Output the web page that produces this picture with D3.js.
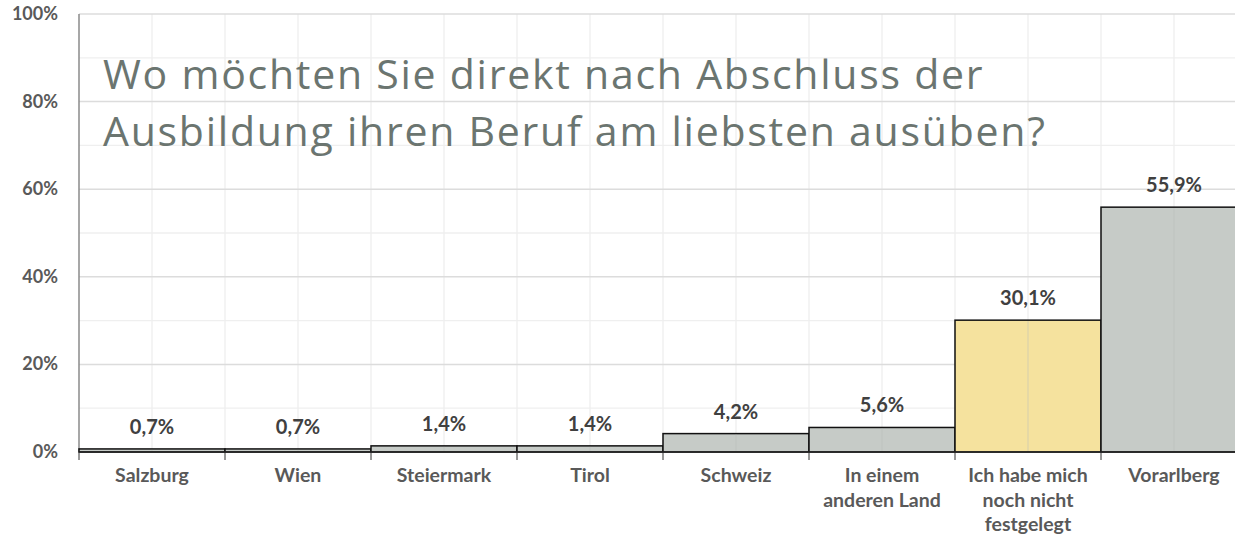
<!DOCTYPE html>
<html><head><meta charset="utf-8">
<script src="https://cdn.jsdelivr.net/npm/d3@7"></script>
<style>body{margin:0;background:#fff;overflow:hidden}svg{display:block}</style>
</head><body>
<svg id="c" width="1235" height="538"></svg>
<script>
const categories = ["Salzburg","Wien","Steiermark","Tirol","Schweiz","In einem anderen Land","Ich habe mich noch nicht festgelegt","Vorarlberg"];
const categoryLines = [["Salzburg"],["Wien"],["Steiermark"],["Tirol"],["Schweiz"],["In einem","anderen Land"],["Ich habe mich","noch nicht","festgelegt"],["Vorarlberg"]];
const values = [0.7,0.7,1.4,1.4,4.2,5.6,30.1,55.9];
const valueLabels = ["0,7%","0,7%","1,4%","1,4%","4,2%","5,6%","30,1%","55,9%"];
const highlight = [false,false,false,false,false,false,true,false];
const yTicks = [0,20,40,60,80,100];
const yMinor = [10,30,50,70,90];
const titleLines = ["Wo möchten Sie direkt nach Abschluss der","Ausbildung ihren Beruf am liebsten ausüben?"];

const svg = d3.select("#c");
const pL = 79, pR = 79 + 146*8, pT = 14, pB = 452;
const x = d3.scaleBand().domain(categories).range([pL, pR]).padding(0);
const y = d3.scaleLinear().domain([0,100]).range([pB, pT]);

// minor horizontal grid
svg.append("g").selectAll("line").data(yMinor).join("line")
  .attr("x1", pL).attr("x2", pR).attr("y1", d=>y(d)).attr("y2", d=>y(d))
  .attr("stroke", "#efefef").attr("stroke-width", 1.3);
// vertical grid at half-category
const halfs = [];
categories.forEach(c => { halfs.push(x(c)); halfs.push(x(c)+x.bandwidth()/2); });
halfs.push(pR);
svg.append("g").selectAll("line").data(halfs.slice(1)).join("line")
  .attr("x1", d=>d).attr("x2", d=>d).attr("y1", pT).attr("y2", pB)
  .attr("stroke", "#efefef").attr("stroke-width", 1.3);
// major horizontal grid
svg.append("g").selectAll("line").data(yTicks.filter(d=>d>0)).join("line")
  .attr("x1", pL).attr("x2", pR).attr("y1", d=>y(d)).attr("y2", d=>y(d))
  .attr("stroke", "#dcdcdc").attr("stroke-width", 1.5);

// title
const title = svg.append("text").attr("x", 103).attr("y", 89)
  .attr("font-family", "'Open Sans', sans-serif").attr("font-size", 41)
  .attr("fill", "#6b7570").attr("letter-spacing", 1.75);
titleLines.forEach((t,i) => title.append("tspan").attr("x", 103).attr("y", 89 + i*57).text(t));

// y axis line
svg.append("line").attr("x1", pL).attr("x2", pL).attr("y1", pT).attr("y2", pB)
  .attr("stroke", "#8a8a8a").attr("stroke-width", 1.5);

// bars
svg.append("g").selectAll("rect").data(values).join("rect")
  .attr("x", (d,i)=>x(categories[i])).attr("width", x.bandwidth())
  .attr("y", d=>y(d)).attr("height", d=>pB - y(d))
  .attr("fill", (d,i)=> highlight[i] ? "#f5e29e" : "#c6cbc7")
  .attr("stroke", "#111").attr("stroke-width", 1.5);

// light vertical grid through bars (visible in reference)
svg.append("g").selectAll("line").data(categories).join("line")
  .attr("x1", d=>x(d)+x.bandwidth()/2).attr("x2", d=>x(d)+x.bandwidth()/2)
  .attr("y1", (d,i)=>y(values[i])+1).attr("y2", pB-1)
  .attr("stroke", "#b9beba").attr("stroke-width", 1).attr("opacity", 0.5);

// x axis baseline + ticks
svg.append("line").attr("x1", pL).attr("x2", pR).attr("y1", pB).attr("y2", pB)
  .attr("stroke", "#222").attr("stroke-width", 1.5);
const xt = categories.map(c=>x(c)); xt.push(pR);
svg.append("g").selectAll("line").data(xt).join("line")
  .attr("x1", d=>d).attr("x2", d=>d).attr("y1", pB).attr("y2", pB+8)
  .attr("stroke", "#333").attr("stroke-width", 1);

// value labels
svg.append("g").selectAll("text").data(values).join("text")
  .attr("x", (d,i)=>x(categories[i])+x.bandwidth()/2).attr("y", d=>y(d)-15)
  .attr("text-anchor", "middle").attr("font-family", "Lato, sans-serif")
  .attr("font-weight", "bold").attr("font-size", 20).attr("fill", "#404040")
  .text((d,i)=>valueLabels[i]);

// category labels
const cl = svg.append("g").selectAll("text").data(categoryLines).join("text")
  .attr("text-anchor", "middle").attr("font-family", "Lato, sans-serif")
  .attr("font-weight", "bold").attr("font-size", 19.5).attr("fill", "#595959");
cl.each(function(lines, i){
  const t = d3.select(this);
  lines.forEach((ln,j)=> t.append("tspan").attr("x", x(categories[i])+x.bandwidth()/2).attr("y", 482 + j*24.5).text(ln));
});

// y tick labels
svg.append("g").selectAll("text").data(yTicks).join("text")
  .attr("x", 58).attr("y", d=>y(d)+6).attr("text-anchor", "end")
  .attr("font-family", "Lato, sans-serif").attr("font-weight", "bold")
  .attr("font-size", 18).attr("fill", "#595959").text(d=>d+"%");
</script>
</body></html>
